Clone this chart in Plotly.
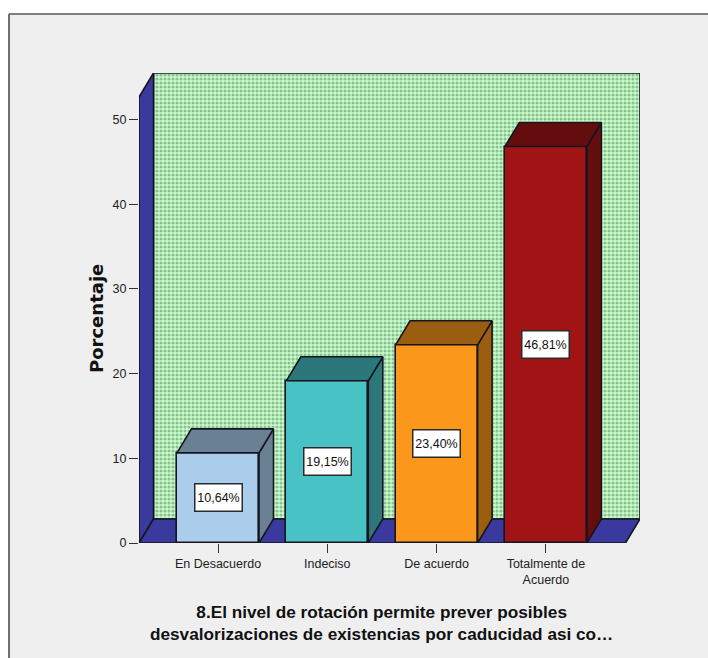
import plotly.graph_objects as go

# Survey responses
categories = ["En Desacuerdo", "Indeciso", "De acuerdo", "Totalmente de<br>Acuerdo"]
percentages = [10.64, 19.15, 23.40, 46.81]
value_labels = ["10,64%", "19,15%", "23,40%", "46,81%"]
front_colors = ["#aacdec", "#48c2c4", "#fb981c", "#a01416"]
shade_colors = ["#6a8093", "#2b7779", "#9b5e11", "#630d0e"]
y_ticks = [0, 10, 20, 30, 40, 50]
x_title = "8.El nivel de rotación permite prever posibles<br>desvalorizaciones de existencias por caducidad asi co…"
y_title = "Porcentaje"

# Canvas geometry
W, H = 708, 658
PLOT_L, PLOT_R, PLOT_T, PLOT_B = 139, 640, 73, 543
UNIT_Y = 8.47      # pixels per percentage point
STEP_X = 109.3     # pixels between categories
FIRST_X = 218      # centre of the first bar
BAR_W = 82 / STEP_X
DX = 14.5 / STEP_X  # oblique depth, in axis units
DY = 24 / UNIT_Y

x_min = (PLOT_L - FIRST_X) / STEP_X
x_max = (PLOT_R - FIRST_X) / STEP_X
y_max = (PLOT_B - PLOT_T) / UNIT_Y
wall_top = y_max - DY
EDGE = dict(color="#15151f", width=1.6)
BLUE = "#3a3a9e"
SANS = "Liberation Sans"

fig = go.Figure()


def polygon(xs, ys, color, xaxis="x", yaxis="y", **extra):
    fig.add_trace(go.Scatter(
        x=xs + xs[:1], y=ys + ys[:1], mode="lines", fill="toself",
        fillcolor=color, line=EDGE, hoverinfo="skip", showlegend=False,
        xaxis=xaxis, yaxis=yaxis, **extra))


# Back wall, side wall and floor sit on the lower subplot
polygon([x_min + DX, x_max, x_max, x_min + DX], [DY, DY, y_max, y_max], "#c6f3c6",
        fillpattern=dict(shape=".", fgcolor="#3f8f4f", bgcolor="#cdf9cd", size=4, solidity=0.5))
polygon([x_min, x_min + DX, x_min + DX, x_min], [0, DY, y_max, wall_top], BLUE)
polygon([x_min, x_max - DX, x_max, x_min + DX], [0, 0, DY, DY], BLUE)

# Bars go on an overlaid subplot so they paint above the walls
fig.add_trace(go.Bar(
    x=list(range(len(percentages))), y=percentages, width=BAR_W,
    marker=dict(color=front_colors, line=EDGE), hoverinfo="skip", showlegend=False,
    xaxis="x2", yaxis="y2"))

for i, v in enumerate(percentages):
    l, r = i - BAR_W / 2, i + BAR_W / 2
    polygon([r, r + DX, r + DX, r], [0, DY, v + DY, v], shade_colors[i], "x2", "y2")
    polygon([l, r, r + DX, l + DX], [v, v, v + DY, v + DY], shade_colors[i], "x2", "y2")

# Value boxes in the middle of each bar
for i, v in enumerate(percentages):
    fig.add_annotation(
        x=i, y=v / 2, xref="x2", yref="y2", text=value_labels[i], showarrow=False,
        width=44, height=24,
        font=dict(family=SANS, size=12.5, color="#111111"),
        bgcolor="white", bordercolor="#2a2a2a", borderwidth=1.5, borderpad=1)

# Panel behind the chart, with its grey top and left rules
px = lambda p: (p - PLOT_L) / (PLOT_R - PLOT_L)
py = lambda p: (PLOT_B - p) / (PLOT_B - PLOT_T)
fig.add_shape(type="rect", xref="paper", yref="paper", layer="below",
              x0=px(9), x1=px(W), y0=py(H), y1=py(14),
              fillcolor="#efefef", line_width=0)
fig.add_shape(type="line", xref="paper", yref="paper", layer="below",
              x0=px(9), x1=px(W), y0=py(14), y1=py(14),
              line=dict(color="#7f7f7f", width=2))
fig.add_shape(type="line", xref="paper", yref="paper", layer="below",
              x0=px(9), x1=px(9), y0=py(H), y1=py(14),
              line=dict(color="#6f6f6f", width=2))

# Axis titles
fig.add_annotation(xref="paper", yref="paper", x=px(381), y=py(623), text=x_title,
                   showarrow=False, align="center", xanchor="center", yanchor="middle",
                   font=dict(family=SANS, size=17.2, color="#111111", weight="bold"))
fig.add_annotation(xref="paper", yref="paper", x=px(96), y=py(319), text=y_title,
                   showarrow=False, textangle=-90, xanchor="center", yanchor="middle",
                   font=dict(family="DejaVu Sans", size=18, color="#111111", weight="bold"))

hidden = dict(visible=False, showgrid=False, zeroline=False)
fig.update_layout(
    width=W, height=H, autosize=False, bargap=0,
    margin=dict(l=PLOT_L, r=W - PLOT_R, t=PLOT_T, b=H - PLOT_B, pad=0),
    paper_bgcolor="white", plot_bgcolor="rgba(0,0,0,0)",
    font=dict(family=SANS, size=12.5, color="#222222"),
    xaxis=dict(range=[x_min, x_max], tickmode="array",
               tickvals=list(range(len(categories))), ticktext=categories,
               ticks="outside", ticklen=9, tickcolor="#333333", showgrid=False,
               zeroline=False, showline=False),
    yaxis=dict(range=[0, y_max], tickmode="array", tickvals=y_ticks,
               ticks="outside", ticklen=9, tickcolor="#333333", showgrid=False,
               zeroline=False, showline=False),
    xaxis2=dict(range=[x_min, x_max], overlaying="x", **hidden),
    yaxis2=dict(range=[0, y_max], overlaying="y", **hidden),
)

fig.write_html("out.html", config=dict(displayModeBar=False))
